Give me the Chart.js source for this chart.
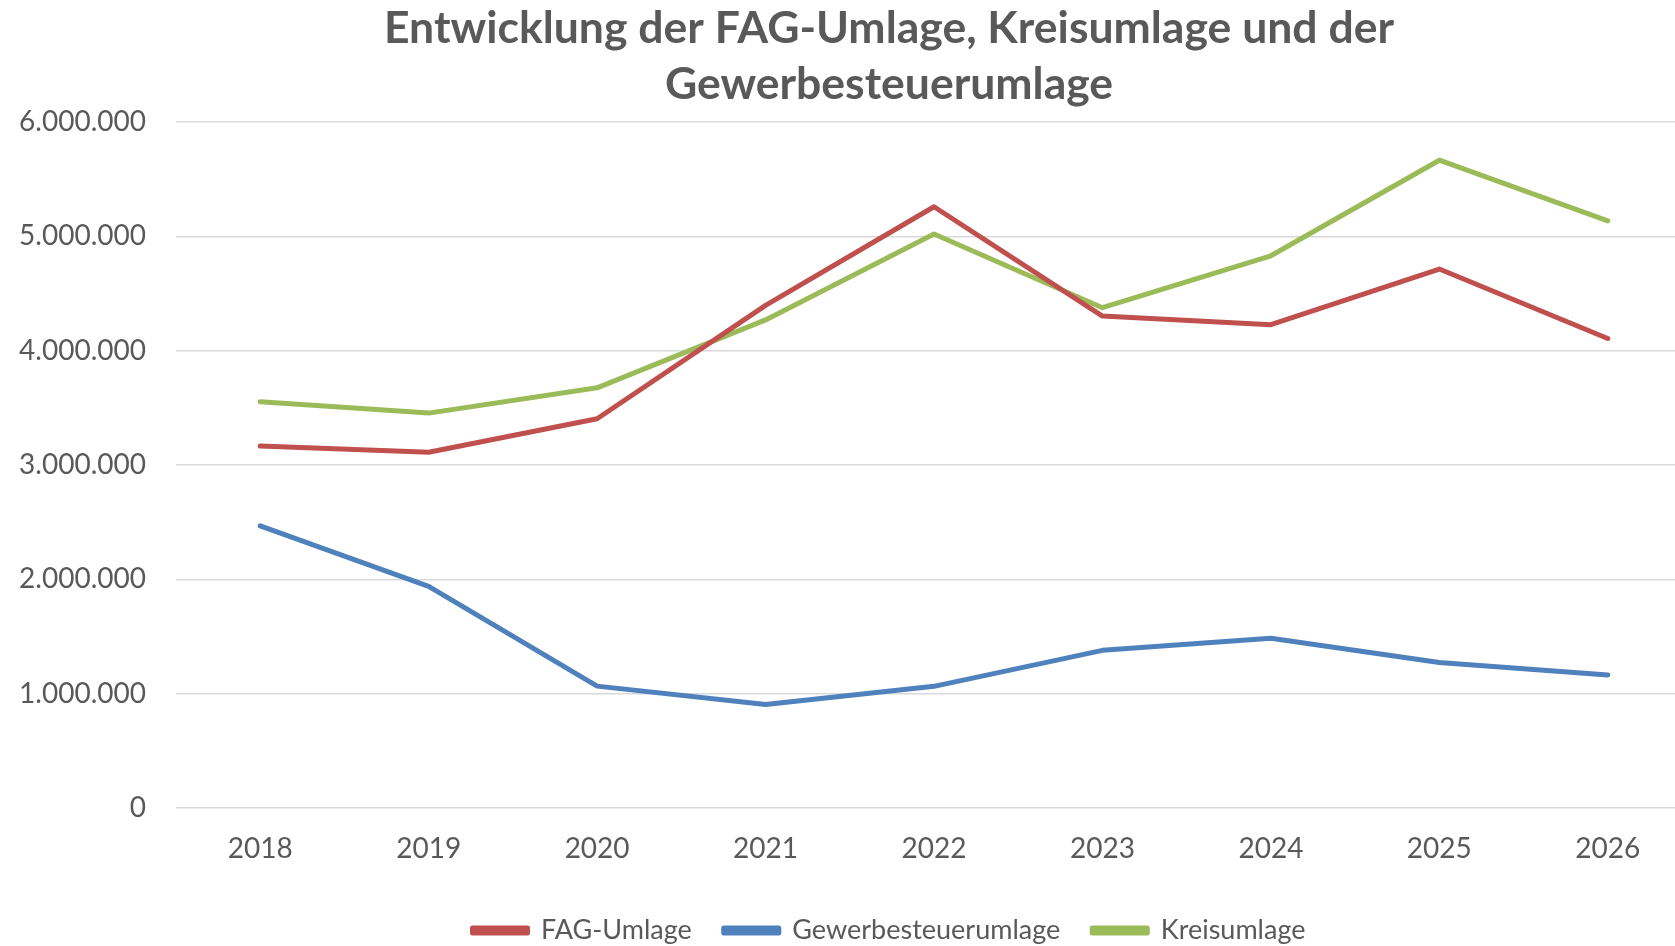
<!DOCTYPE html>
<html>
<head>
<meta charset="utf-8">
<script src="https://cdn.jsdelivr.net/npm/chart.js@4.4.1/dist/chart.umd.min.js"></script>
<style>
html,body{margin:0;padding:0;overflow:hidden;background:#ffffff;width:1675px;height:946px}
#wrap{width:1760px;height:946px;position:relative}
canvas{display:block}
</style>
</head>
<body>
<div id="wrap"><canvas id="chart" width="1760" height="946"></canvas></div>
<script>
const years = ['2018', '2019', '2020', '2021', '2022', '2023', '2024', '2025', '2026'];
const fagUmlage = [3166000, 3111000, 3405000, 4396000, 5259000, 4303000, 4227000, 4714000, 4107000];
const gewerbesteuerumlage = [2468000, 1938000, 1066000, 905000, 1064000, 1379000, 1484000, 1273000, 1164000];
const kreisumlage = [3554000, 3454000, 3675000, 4269000, 5020000, 4376000, 4830000, 5666000, 5136000];
const titleLines = ['Entwicklung der FAG-Umlage, Kreisumlage und der', 'Gewerbesteuerumlage'];
const seriesNames = ['FAG-Umlage', 'Gewerbesteuerumlage', 'Kreisumlage'];
const yMin = 0, yMax = 6000000, yStep = 1000000;

function fmt(v) {
  return String(Math.round(v)).replace(/\B(?=(\d{3})+(?!\d))/g, '.');
}

const textColor = '#595959';
const lineStyle = (color) => ({
  borderColor: color,
  backgroundColor: color,
  borderWidth: 5,
  pointRadius: 0,
  pointHoverRadius: 0,
  tension: 0,
  fill: false,
  borderCapStyle: 'round',
  borderJoinStyle: 'round'
});

new Chart(document.getElementById('chart'), {
  type: 'line',
  data: {
    labels: years,
    datasets: [
      Object.assign({ label: seriesNames[0], data: fagUmlage }, lineStyle('#C0504D')),
      Object.assign({ label: seriesNames[1], data: gewerbesteuerumlage }, lineStyle('#4F81BD')),
      Object.assign({ label: seriesNames[2], data: kreisumlage }, lineStyle('#9BBB59'))
    ]
  },
  options: {
    responsive: false,
    animation: false,
    devicePixelRatio: 1,
    layout: { padding: { left: 18, right: 0, top: 0, bottom: -8 } },
    plugins: {
      tooltip: { enabled: false },
      title: {
        display: true,
        text: titleLines,
        color: textColor,
        font: { family: 'Lato', weight: 'bold', size: 44.5, lineHeight: 1.27 },
        padding: { top: 0, bottom: 9 }
      },
      legend: {
        display: true,
        position: 'bottom',
        labels: {
          color: textColor,
          font: { family: 'Lato', size: 27 },
          boxWidth: 55,
          boxHeight: 5,
          padding: 32
        }
      }
    },
    scales: {
      x: {
        type: 'category',
        offset: true,
        grid: { display: false, drawTicks: false },
        border: { display: false },
        ticks: {
          color: textColor,
          font: { family: 'Lato', size: 28 },
          padding: 24,
          maxRotation: 0
        },
        afterFit: (s) => { s.height = 77; }
      },
      y: {
        position: 'left',
        min: yMin,
        max: yMax,
        grid: { color: '#D9D9D9', lineWidth: 1.5, drawTicks: false },
        border: { display: false },
        ticks: {
          stepSize: yStep,
          color: textColor,
          font: { family: 'Lato', size: 28 },
          padding: 30,
          callback: (v) => fmt(v)
        },
        afterFit: (s) => { s.width = 158; }
      },
      yRightSpace: {
        type: 'linear',
        position: 'right',
        display: true,
        grid: { display: false, drawTicks: false },
        border: { display: false },
        ticks: { display: false },
        afterFit: (s) => { s.width = 68; }
      }
    }
  }
});
</script>
</body>
</html>
